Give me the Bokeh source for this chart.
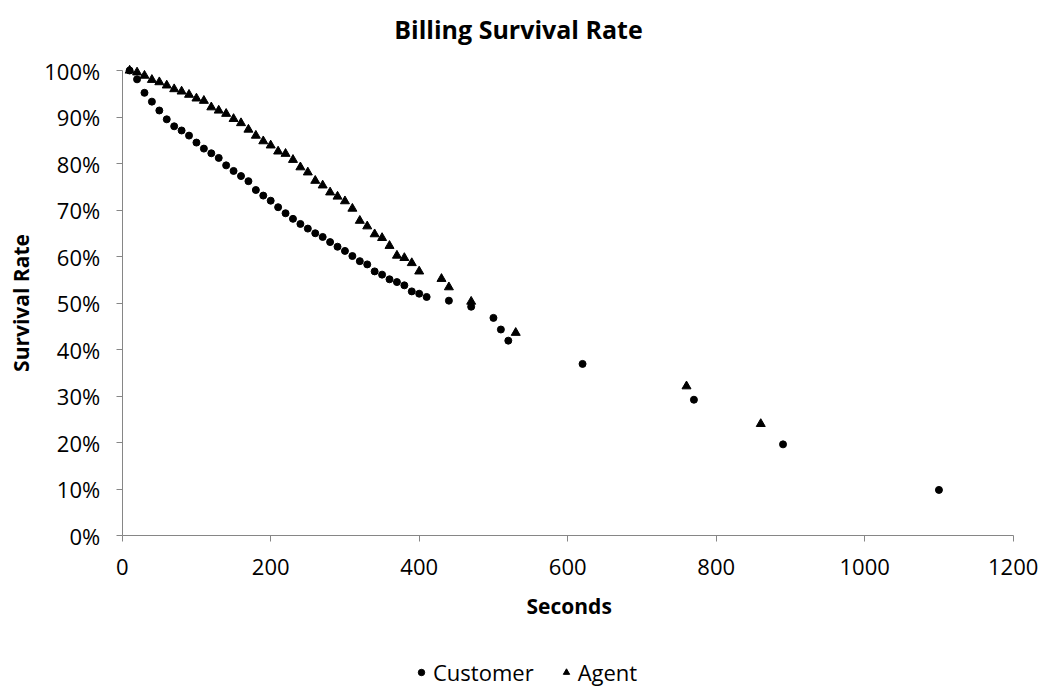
import math
from bokeh.plotting import figure
from bokeh.models import Legend, LegendItem, NumeralTickFormatter, FixedTicker, Range1d, Label
from bokeh.embed import file_html
from bokeh.resources import INLINE

# ---- data ----
customer_seconds = [10, 20, 30, 40, 50, 60, 70, 80, 90, 100, 110, 120, 130, 140, 150,
                    160, 170, 180, 190, 200, 210, 220, 230, 240, 250, 260, 270, 280,
                    290, 300, 310, 320, 330, 340, 350, 360, 370, 380, 390, 400, 410,
                    440, 470, 500, 510, 520, 620, 770, 890, 1100]
customer_rate = [100.0, 98.1, 95.2, 93.3, 91.4, 89.5, 88.0, 87.1, 86.0, 84.5, 83.2, 82.2,
                 81.2, 79.6, 78.4, 77.3, 76.2, 74.3, 73.1, 72.0, 70.6, 69.3, 68.1, 67.0,
                 66.0, 65.0, 64.2, 63.1, 62.1, 61.2, 60.1, 59.0, 58.3, 56.8, 56.1, 55.1,
                 54.5, 53.8, 52.5, 52.0, 51.3, 50.5, 49.2, 46.8, 44.3, 41.9, 36.9, 29.2,
                 19.6, 9.8]

agent_seconds = [10, 20, 30, 40, 50, 60, 70, 80, 90, 100, 110, 120, 130, 140, 150,
                 160, 170, 180, 190, 200, 210, 220, 230, 240, 250, 260, 270, 280,
                 290, 300, 310, 320, 330, 340, 350, 360, 370, 380, 390, 400,
                 430, 440, 470, 530, 760, 860]
agent_rate = [100.0, 99.6, 98.9, 98.0, 97.5, 96.8, 96.0, 95.5, 94.8, 94.0, 93.5, 92.1,
              91.4, 90.7, 89.6, 88.7, 87.3, 86.0, 84.8, 83.9, 82.6, 82.1, 80.8, 79.2,
              78.1, 76.3, 75.3, 73.8, 72.9, 71.9, 70.3, 67.7, 66.5, 64.8, 64.0, 62.3,
              60.2, 59.7, 58.6, 56.8, 55.2, 53.4, 50.3, 43.6, 32.1, 24.0]

x_ticks = [0, 200, 400, 600, 800, 1000, 1200]
y_ticks = [0, 0.1, 0.2, 0.3, 0.4, 0.5, 0.6, 0.7, 0.8, 0.9, 1.0]

FONT = "Open Sans"
AXIS_COLOR = "#868686"

# ---- layout: the frame covers the whole canvas, axes sit at fixed locations ----
W, H = 1044, 687
PX_LEFT, PX_RIGHT, PX_TOP, PX_BOTTOM = 121.7, 1012.7, 70.0, 535.0
X_MIN, X_MAX = 0, 1200
Y_MIN, Y_MAX = 0.0, 1.0
SX = (PX_RIGHT - PX_LEFT) / (X_MAX - X_MIN)
SY = (PX_BOTTOM - PX_TOP) / (Y_MAX - Y_MIN)


def dx(px):
    return X_MIN + (px - PX_LEFT) / SX


def dy(py):
    return Y_MIN + (PX_BOTTOM - py) / SY


p = figure(width=W, height=H, output_backend="svg", toolbar_location=None,
           x_range=Range1d(dx(0), dx(W)), y_range=Range1d(dy(H), dy(0)),
           min_border=0, min_border_left=0, min_border_right=0,
           min_border_top=0, min_border_bottom=0)
p.outline_line_color = None
p.xgrid.visible = False
p.ygrid.visible = False

for ax in (p.xaxis[0], p.yaxis[0]):
    ax.axis_line_color = AXIS_COLOR
    ax.major_tick_line_color = AXIS_COLOR
    ax.major_tick_out = 6
    ax.major_tick_in = 0
    ax.minor_tick_line_color = None
    ax.major_label_text_font = FONT
    ax.major_label_text_font_size = "22px"
    ax.major_label_text_color = "#000000"

p.xaxis.fixed_location = Y_MIN
p.yaxis.fixed_location = X_MIN
p.xaxis.bounds = (X_MIN, X_MAX)
p.yaxis.bounds = (Y_MIN, Y_MAX)
p.xaxis.ticker = FixedTicker(ticks=x_ticks)
p.yaxis.ticker = FixedTicker(ticks=y_ticks)
p.yaxis.formatter = NumeralTickFormatter(format="0%")
p.xaxis.major_label_standoff = 17
p.yaxis.major_label_standoff = 16

# title and axis titles
p.add_layout(Label(x=dx(518), y=dy(28), text="Billing Survival Rate",
                   text_align="center", text_baseline="alphabetic",
                   text_font=FONT, text_font_size="25px", text_font_style="bold",
                   text_color="#000000"))
p.add_layout(Label(x=(X_MIN + X_MAX) / 2 + 2, y=dy(605), text="Seconds",
                   text_align="center", text_baseline="middle",
                   text_font=FONT, text_font_size="21px", text_font_style="bold",
                   text_color="#000000"))
p.add_layout(Label(x=dx(20), y=(Y_MIN + Y_MAX) / 2, text="Survival Rate", angle=math.pi / 2,
                   text_align="center", text_baseline="middle",
                   text_font=FONT, text_font_size="21px", text_font_style="bold",
                   text_color="#000000"))

c = p.scatter(customer_seconds, [r / 100 for r in customer_rate],
              marker="circle", size=7, fill_color="black", line_color="black")
a = p.scatter(agent_seconds, [r / 100 for r in agent_rate],
              marker="triangle", size=9, fill_color="black", line_color="black")

legend = Legend(items=[LegendItem(label="Customer", renderers=[c]),
                       LegendItem(label="Agent", renderers=[a])],
                orientation="horizontal", location=(413, 0))
legend.label_text_font = FONT
legend.label_text_font_size = "22px"
legend.label_text_color = "#000000"
legend.border_line_color = None
legend.background_fill_alpha = 0
legend.glyph_width = 16
legend.glyph_height = 22
legend.label_standoff = 4
legend.spacing = 24
legend.padding = 0
legend.margin = 0
p.add_layout(legend, "center")

open("out.html", "w").write(file_html(p, INLINE))
